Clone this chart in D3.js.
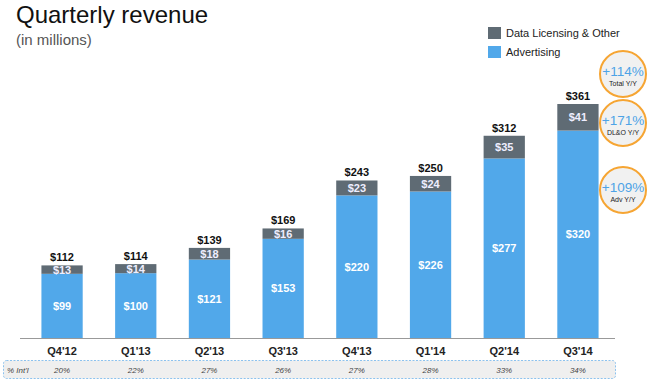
<!DOCTYPE html>
<html><head><meta charset="utf-8">
<script src="https://cdn.jsdelivr.net/npm/d3@7"></script>
<style>body{margin:0;background:#fff}svg{display:block;font-family:"Liberation Sans",Arial,sans-serif}</style>
</head><body><svg id="c" width="650" height="383"></svg>
<script>
const quarters = ["Q4'12","Q1'13","Q2'13","Q3'13","Q4'13","Q1'14","Q2'14","Q3'14"];
const advertising = [99,100,121,153,220,226,277,320];
const dataLicensing = [13,14,18,16,23,24,35,41];
const totals = [112,114,139,169,243,250,312,361];
const intlShare = ["20%","22%","27%","26%","27%","28%","33%","34%"];
const growthValues = ["+114%","+171%","+109%"];
const growthLabels = ["Total Y/Y","DL&O Y/Y","Adv Y/Y"];
const legendLabels = ["Data Licensing & Other","Advertising"];

const blue = "#51A8EA", gray = "#5F6B74";
const svg = d3.select("#c");

const x = d3.scaleBand().domain(quarters).range([9, 631]).paddingInner(0.44).paddingOuter(0.44);
const y = d3.scaleLinear().domain([0, 361]).range([338, 104]);

// title
svg.append("text").attr("x",16).attr("y",23).attr("font-size",24).attr("fill","#111").text("Quarterly revenue");
svg.append("text").attr("x",16).attr("y",45).attr("font-size",15).attr("fill","#555").text("(in millions)");

// legend
const lg = svg.append("g");
[gray, blue].forEach((c,i)=>{
  lg.append("rect").attr("x",488).attr("y",27+i*19).attr("width",13).attr("height",12).attr("fill",c);
  lg.append("text").attr("x",506).attr("y",37+i*19).attr("font-size",11).attr("fill","#222").text(legendLabels[i]);
});

// bars
const g = svg.append("g");
quarters.forEach((q,i)=>{
  const bx = x(q), bw = x.bandwidth(), cx = bx + bw/2;
  g.append("rect").attr("x",bx).attr("y",y(advertising[i])).attr("width",bw)
    .attr("height",y(0)-y(advertising[i])).attr("fill",blue);
  g.append("rect").attr("x",bx).attr("y",y(totals[i])).attr("width",bw)
    .attr("height",y(advertising[i])-y(totals[i])).attr("fill",gray);
  g.append("text").attr("x",cx).attr("y",(y(advertising[i])+y(0))/2+4).attr("text-anchor","middle")
    .attr("font-size",11).attr("font-weight","bold").attr("fill","#fff").text("$"+advertising[i]);
  g.append("text").attr("x",cx).attr("y",(y(advertising[i])+y(totals[i]))/2+4).attr("text-anchor","middle")
    .attr("font-size",11).attr("font-weight","bold").attr("fill","#eef").text("$"+dataLicensing[i]);
  g.append("text").attr("x",cx).attr("y",y(totals[i])-4).attr("text-anchor","middle")
    .attr("font-size",11).attr("font-weight","bold").attr("fill","#111").text("$"+totals[i]);
});

// axis
const xa = svg.append("g").attr("transform","translate(0,338)").call(d3.axisBottom(x).tickSize(0).tickPadding(9));
xa.select(".domain").attr("stroke","#999").attr("stroke-width",1.2).attr("d","M20,0.5H615");
xa.selectAll("text").attr("font-size",11).attr("font-weight","bold").attr("fill","#222")
  .attr("font-family","Liberation Sans, Arial, sans-serif");

// growth circles
const cy = [74,123,190];
growthValues.forEach((v,i)=>{
  svg.append("circle").attr("cx",623).attr("cy",cy[i]).attr("r",23).attr("fill","#f1f1f1")
    .attr("stroke","#F6A533").attr("stroke-width",2);
  svg.append("text").attr("x",623).attr("y",cy[i]+2).attr("text-anchor","middle").attr("font-size",13.5)
    .attr("fill","#4EA3E6").text(v);
  svg.append("text").attr("x",623).attr("y",cy[i]+12).attr("text-anchor","middle").attr("font-size",7)
    .attr("fill","#222").text(growthLabels[i]);
});

// intl band
svg.append("rect").attr("x",3.5).attr("y",360.5).attr("width",612).attr("height",18).attr("rx",3)
  .attr("fill","#efefef").attr("stroke","#8CC2EE").attr("stroke-dasharray","2,1.5");
svg.append("text").attr("x",7).attr("y",373).attr("font-size",8).attr("font-style","italic").attr("fill","#444").text("% Int'l");
quarters.forEach((q,i)=>{
  svg.append("text").attr("x",x(q)+x.bandwidth()/2).attr("y",373).attr("text-anchor","middle")
    .attr("font-size",8).attr("font-style","italic").attr("fill","#444").text(intlShare[i]);
});
</script></body></html>
